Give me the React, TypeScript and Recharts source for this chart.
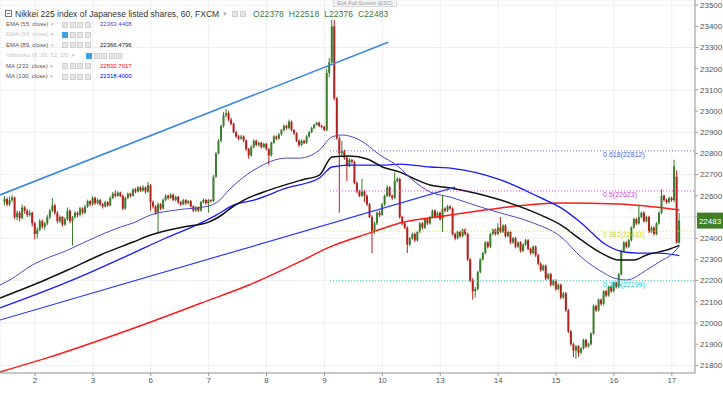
import React from 'react';
import { ComposedChart, Bar, Line, XAxis, YAxis, CartesianGrid, ReferenceLine, ReferenceDot } from 'recharts';

type Candle = [number, number, number, number]; // open, high, low, close

const dayTicks = [12, 35, 58, 81, 104, 127, 150, 173, 196, 219, 242, 265];
const dayLabels = ['2', '3', '6', '7', '8', '9', '10', '13', '14', '15', '16', '17'];
const priceTicks = [21800, 21900, 22000, 22100, 22200, 22300, 22400, 22500, 22600, 22700, 22800, 22900, 23000, 23100, 23200, 23300, 23400, 23500];

const day01: Candle[] = [
  [22570, 22600, 22555, 22585], [22585, 22592, 22550, 22560], [22560, 22598, 22552, 22580], [22580, 22605, 22570, 22592],
  [22592, 22596, 22490, 22500], [22500, 22530, 22485, 22520], [22520, 22528, 22480, 22495], [22495, 22560, 22488, 22545],
  [22545, 22552, 22515, 22530], [22530, 22538, 22500, 22510], [22510, 22532, 22502, 22520], [22520, 22525, 22455, 22470],
];
const day02: Candle[] = [
  [22470, 22478, 22395, 22420], [22420, 22450, 22400, 22440], [22440, 22490, 22432, 22480], [22480, 22488, 22445, 22455],
  [22455, 22478, 22440, 22470], [22470, 22510, 22462, 22500], [22500, 22538, 22490, 22530], [22530, 22590, 22522, 22555],
  [22555, 22562, 22510, 22520], [22520, 22528, 22470, 22480], [22480, 22508, 22472, 22500], [22500, 22505, 22455, 22465],
  [22465, 22498, 22458, 22490], [22490, 22545, 22482, 22530], [22530, 22536, 22470, 22480], [22480, 22505, 22365, 22500],
  [22500, 22528, 22492, 22520], [22520, 22526, 22498, 22510], [22510, 22548, 22503, 22540], [22540, 22546, 22512, 22520],
  [22520, 22558, 22514, 22550], [22550, 22582, 22542, 22575], [22575, 22580, 22550, 22560],
];
const day03: Candle[] = [
  [22560, 22600, 22552, 22590], [22590, 22596, 22558, 22565], [22565, 22588, 22558, 22580], [22580, 22585, 22552, 22560],
  [22560, 22566, 22540, 22550], [22550, 22578, 22545, 22570], [22570, 22576, 22548, 22555], [22555, 22598, 22550, 22590],
  [22590, 22618, 22584, 22610], [22610, 22625, 22592, 22600], [22600, 22622, 22595, 22615], [22615, 22620, 22594, 22600],
  [22600, 22606, 22532, 22540], [22540, 22596, 22535, 22590], [22590, 22616, 22584, 22610], [22610, 22615, 22592, 22600],
  [22600, 22636, 22596, 22630], [22630, 22638, 22612, 22620], [22620, 22646, 22615, 22640], [22640, 22645, 22618, 22625],
  [22625, 22650, 22620, 22640], [22640, 22644, 22612, 22620], [22620, 22665, 22615, 22650],
];
const day06: Candle[] = [
  [22650, 22656, 22530, 22570], [22570, 22578, 22540, 22550], [22550, 22556, 22510, 22520], [22520, 22568, 22425, 22560],
  [22560, 22566, 22532, 22540], [22540, 22588, 22535, 22580], [22580, 22608, 22574, 22600], [22600, 22606, 22582, 22590],
  [22590, 22612, 22585, 22605], [22605, 22610, 22575, 22580], [22580, 22600, 22574, 22595], [22595, 22600, 22562, 22570],
  [22570, 22576, 22552, 22560], [22560, 22586, 22555, 22580], [22580, 22584, 22558, 22565], [22565, 22580, 22560, 22575],
  [22575, 22580, 22544, 22550], [22550, 22556, 22522, 22530], [22530, 22552, 22525, 22545], [22545, 22550, 22524, 22530],
  [22530, 22576, 22526, 22570], [22570, 22588, 22564, 22580], [22580, 22585, 22558, 22565],
];
const day07: Candle[] = [
  [22565, 22585, 22520, 22580], [22580, 22584, 22568, 22575], [22575, 22698, 22570, 22690], [22690, 22808, 22685, 22800],
  [22800, 22868, 22795, 22860], [22860, 22936, 22852, 22930], [22930, 22995, 22922, 22980], [22980, 23010, 22970, 22990],
  [22990, 23000, 22952, 22960], [22960, 22968, 22932, 22940], [22940, 22946, 22895, 22900], [22900, 22906, 22872, 22880],
  [22880, 22888, 22862, 22870], [22870, 22888, 22864, 22880], [22880, 22885, 22852, 22860], [22860, 22866, 22812, 22820],
  [22820, 22826, 22775, 22790], [22790, 22838, 22784, 22830], [22830, 22866, 22824, 22860], [22860, 22865, 22834, 22840],
  [22840, 22856, 22832, 22850], [22850, 22855, 22824, 22830], [22830, 22850, 22826, 22845],
];
const day08: Candle[] = [
  [22845, 22850, 22814, 22820], [22820, 22826, 22745, 22790], [22790, 22856, 22785, 22850], [22850, 22886, 22845, 22880],
  [22880, 22885, 22862, 22870], [22870, 22896, 22865, 22890], [22890, 22916, 22884, 22910], [22910, 22936, 22904, 22930],
  [22930, 22935, 22912, 22920], [22920, 22960, 22914, 22950], [22950, 22955, 22904, 22910], [22910, 22915, 22888, 22895],
  [22895, 22900, 22854, 22860], [22860, 22866, 22830, 22840], [22840, 22866, 22835, 22860], [22860, 22865, 22844, 22850],
  [22850, 22886, 22845, 22880], [22880, 22906, 22874, 22900], [22900, 22926, 22895, 22920], [22920, 22940, 22915, 22935],
  [22935, 22950, 22930, 22945], [22945, 22950, 22925, 22930], [22930, 22936, 22918, 22925],
];
const day09: Candle[] = [
  [22925, 22930, 22905, 22910], [22910, 23200, 22905, 23180], [23180, 23250, 23160, 23230], [23230, 23430, 23225, 23400],
  [23400, 23430, 23050, 23060], [23060, 23066, 22865, 22870], [22870, 22880, 22520, 22800], [22800, 22860, 22790, 22810],
  [22810, 22818, 22770, 22780], [22780, 22790, 22670, 22740], [22740, 22778, 22735, 22770], [22770, 22775, 22752, 22760],
  [22760, 22766, 22655, 22660], [22660, 22668, 22612, 22620], [22620, 22628, 22594, 22600], [22600, 22680, 22594, 22620],
  [22620, 22626, 22570, 22600], [22600, 22606, 22552, 22560], [22560, 22566, 22495, 22500], [22500, 22508, 22330, 22430],
  [22430, 22478, 22420, 22470], [22470, 22526, 22462, 22520], [22520, 22530, 22500, 22510],
];
const day10: Candle[] = [
  [22510, 22566, 22504, 22560], [22560, 22606, 22552, 22600], [22600, 22650, 22594, 22640], [22640, 22646, 22594, 22600],
  [22600, 22606, 22580, 22590], [22590, 22710, 22585, 22670], [22670, 22690, 22662, 22680], [22680, 22686, 22492, 22500],
  [22500, 22506, 22462, 22470], [22470, 22476, 22442, 22450], [22450, 22456, 22330, 22370], [22370, 22406, 22362, 22400],
  [22400, 22426, 22392, 22420], [22420, 22426, 22382, 22390], [22390, 22436, 22384, 22430], [22430, 22476, 22424, 22470],
  [22470, 22476, 22442, 22450], [22450, 22496, 22444, 22490], [22490, 22496, 22462, 22470], [22470, 22506, 22464, 22500],
  [22500, 22536, 22494, 22530], [22530, 22536, 22494, 22500], [22500, 22526, 22494, 22520],
];
const day13: Candle[] = [
  [22520, 22526, 22484, 22490], [22490, 22600, 22430, 22540], [22540, 22546, 22522, 22530], [22530, 22556, 22524, 22550],
  [22550, 22556, 22534, 22540], [22540, 22546, 22412, 22420], [22420, 22426, 22390, 22400], [22400, 22436, 22394, 22430],
  [22430, 22436, 22402, 22410], [22410, 22446, 22404, 22440], [22440, 22446, 22412, 22420], [22420, 22426, 22292, 22300],
  [22300, 22306, 22192, 22200], [22200, 22212, 22110, 22150], [22150, 22170, 22120, 22160], [22160, 22246, 22154, 22240],
  [22240, 22306, 22234, 22300], [22300, 22336, 22294, 22330], [22330, 22386, 22324, 22380], [22380, 22386, 22352, 22360],
  [22360, 22426, 22354, 22420], [22420, 22446, 22414, 22440], [22440, 22446, 22412, 22420],
];
const day14: Candle[] = [
  [22420, 22470, 22414, 22450], [22450, 22500, 22424, 22430], [22430, 22466, 22424, 22460], [22460, 22466, 22402, 22410],
  [22410, 22436, 22404, 22430], [22430, 22436, 22372, 22380], [22380, 22406, 22374, 22400], [22400, 22406, 22352, 22360],
  [22360, 22386, 22354, 22380], [22380, 22386, 22332, 22340], [22340, 22376, 22334, 22370], [22370, 22396, 22364, 22390],
  [22390, 22396, 22342, 22350], [22350, 22356, 22322, 22330], [22330, 22366, 22324, 22360], [22360, 22366, 22312, 22320],
  [22320, 22326, 22272, 22280], [22280, 22286, 22242, 22250], [22250, 22276, 22244, 22270], [22270, 22276, 22202, 22210],
  [22210, 22236, 22204, 22230], [22230, 22236, 22172, 22180], [22180, 22206, 22174, 22200],
];
const day15: Candle[] = [
  [22200, 22206, 22152, 22160], [22160, 22186, 22154, 22180], [22180, 22186, 22112, 22120], [22120, 22146, 22114, 22140],
  [22140, 22146, 22052, 22060], [22060, 22066, 21952, 21960], [21960, 21966, 21892, 21900], [21900, 21906, 21840, 21870],
  [21870, 21896, 21830, 21890], [21890, 21896, 21840, 21860], [21860, 21886, 21852, 21880], [21880, 21926, 21874, 21920],
  [21920, 21926, 21882, 21890], [21890, 21906, 21884, 21900], [21900, 21956, 21894, 21950], [21950, 22086, 21944, 22080],
  [22080, 22086, 22052, 22060], [22060, 22116, 22054, 22110], [22110, 22116, 22082, 22090], [22090, 22156, 22084, 22150],
  [22150, 22156, 22122, 22130], [22130, 22176, 22124, 22170], [22170, 22176, 22142, 22150],
];
const day16: Candle[] = [
  [22150, 22196, 22144, 22190], [22190, 22196, 22162, 22170], [22170, 22236, 22164, 22230], [22230, 22346, 22224, 22340],
  [22340, 22386, 22334, 22380], [22380, 22386, 22352, 22360], [22360, 22396, 22354, 22390], [22390, 22456, 22384, 22450],
  [22450, 22496, 22444, 22490], [22490, 22496, 22462, 22470], [22470, 22557, 22464, 22500], [22500, 22526, 22494, 22520],
  [22520, 22526, 22474, 22480], [22480, 22506, 22474, 22500], [22500, 22506, 22424, 22430], [22430, 22456, 22424, 22450],
  [22450, 22456, 22412, 22420], [22420, 22476, 22414, 22470], [22470, 22526, 22464, 22520], [22520, 22630, 22514, 22600],
  [22600, 22606, 22572, 22580], [22580, 22586, 22562, 22570], [22570, 22596, 22564, 22590],
];
const day17: Candle[] = [
  [22590, 22596, 22572, 22580], [22580, 22770, 22570, 22740], [22690, 22720, 22375, 22380], [22378, 22518, 22376, 22483],
];

// moving averages: [candle index, value]
const ema55Pts: [number, number][] = [
  [-1.9, 22179], [2, 22203], [11, 22274], [25, 22344], [38, 22415], [46, 22453], [51, 22472], [58, 22510], [68, 22533],
  [81, 22552], [85, 22576], [89, 22627], [99, 22722], [112, 22778], [117, 22778], [125, 22816], [130, 22878], [134, 22887],
  [141, 22863], [149, 22793], [156, 22741], [162, 22675], [169, 22618], [177, 22594], [189, 22547], [197, 22519],
  [209, 22476], [221, 22406], [229, 22311], [238, 22236], [242, 22212], [247, 22203], [255, 22250], [260, 22288],
  [266, 22335], [268, 22363],
];
const ema89Pts: [number, number][] = [
  [-1.9, 22118], [16, 22203], [25, 22250], [38, 22321], [51, 22382], [58, 22415], [71, 22453], [81, 22476], [85, 22500],
  [91, 22552], [95, 22580], [105, 22627], [118, 22675], [125, 22698], [130, 22783], [137, 22788], [144, 22774],
  [150, 22736], [157, 22712], [162, 22684], [169, 22651], [177, 22637], [197, 22580], [213, 22509], [221, 22462],
  [229, 22392], [237, 22330], [244, 22297], [250, 22297], [255, 22321], [263, 22344], [268, 22366],
];
const ma100Pts: [number, number][] = [
  [-1.9, 22071], [27, 22203], [38, 22260], [51, 22330], [64, 22401], [78, 22472], [84, 22509], [91, 22557], [99, 22580],
  [112, 22637], [125, 22684], [130, 22736], [137, 22745], [150, 22745], [157, 22750], [169, 22736], [177, 22731],
  [197, 22675], [213, 22590], [221, 22543], [229, 22472], [239, 22368], [246, 22335], [252, 22330], [260, 22330],
  [268, 22318],
];
const ma233Pts: [number, number][] = [
  [-1.9, 21769], [18, 21840], [38, 21920], [58, 22005], [78, 22094], [97, 22179], [117, 22288], [129, 22358],
  [145, 22425], [157, 22472], [177, 22509], [197, 22543], [221, 22566], [244, 22561], [268, 22533],
];

const upperTrend = [{ x: -1.9, y: 22604 }, { x: 152.3, y: 23325 }];
const lowerTrend = [{ x: -1.9, y: 22014 }, { x: 178.9, y: 22641 }];
const fibStart = 129.2;
const fibEnd = 274.2;
const fibLabelAt = 237.7;
const fibLevels = [22812, 22623, 22433, 22199];
const fibNames = ['0.618', '0.5', '0.382', '0.236'];
const fibColors = ['#6b6be6', '#e04fe0', '#e6e600', '#2fd6d6'];
const fibTextColors = ['#4f5fe0', '#d43cd4', '#d6d600', '#20c4c4'];

const lastClose = 22483;
const X_DOMAIN: [number, number] = [-1.9, 274.2];
const Y_DOMAIN: [number, number] = [21764, 23524];

const GREEN = '#3a7d2c';
const RED = '#b3211e';
const GRAY = '#8a8a8a';

const candles: Candle[] = [day01, day02, day03, day06, day07, day08, day09, day10, day13, day14, day15, day16, day17].flat();

type Row = { i: number; o?: number; h?: number; l?: number; c?: number; ema55?: number; ema89?: number; ma100?: number; ma233?: number };
const table: Row[] = [{ i: X_DOMAIN[0] }, ...candles.map((k, i) => ({ i, o: k[0], h: k[1], l: k[2], c: k[3] }))];
const put = (pts: [number, number][], key: 'ema55' | 'ema89' | 'ma100' | 'ma233') => {
  pts.forEach(([idx, v]) => {
    const row = idx < 0 ? table[0] : table[Math.round(idx) + 1];
    if (row) row[key] = v;
  });
};
put(ema55Pts, 'ema55');
put(ema89Pts, 'ema89');
put(ma100Pts, 'ma100');
put(ma233Pts, 'ma233');

const CandleShape = (props: any) => {
  const { x, y, width, height, payload } = props;
  if (!payload || payload.o == null || x == null || y == null) return null;
  const { o, h, l, c } = payload;
  const cx = x + width / 2;
  const ratio = h === l ? 0 : height / (h - l);
  const top = y + (h - Math.max(o, c)) * ratio;
  const bot = y + (h - Math.min(o, c)) * ratio;
  const color = c > o ? GREEN : c < o ? RED : GRAY;
  return (
    <g>
      <line x1={cx} x2={cx} y1={y} y2={y + height} stroke={color} strokeWidth={1} />
      <rect x={cx - 1} y={top} width={2} height={Math.max(1, bot - top)} fill={color} />
    </g>
  );
};

const Icon = ({ blue }: { blue?: boolean }) => (
  <span
    style={{
      display: 'inline-block', width: 6, height: 6, marginRight: 1.5, boxSizing: 'border-box',
      background: blue ? '#3ea3e6' : '#e6e6e6', border: `1px solid ${blue ? '#3ea3e6' : '#d0d0d0'}`, verticalAlign: 'middle',
    }}
  />
);

const legendRows = [
  { label: 'EMA (55, close)', value: '22363.4408', color: '#4b47c8', dim: false, iconX: 62, icons: 4 },
  { label: 'EMA (34, close)', value: '', color: '#999', dim: true, iconX: 62, icons: 4 },
  { label: 'EMA (89, close)', value: '22366.4796', color: '#222', dim: false, iconX: 62, icons: 4 },
  { label: 'Ichimoku (9, 26, 52, 26)', value: '', color: '#999', dim: true, iconX: 86, icons: 5 },
  { label: 'MA (233, close)', value: '22532.7017', color: '#ff0000', dim: false, iconX: 62, icons: 4 },
  { label: 'MA (100, close)', value: '22318.4000', color: '#0000ff', dim: false, iconX: 62, icons: 4 },
];

const FONT = '"Liberation Sans", Arial, sans-serif';

export default function App() {
  return (
    <div style={{ position: 'absolute', left: 0, top: 0, width: 723, height: 395, background: '#fff', overflow: 'hidden', fontFamily: FONT }}>
      <ComposedChart width={723} height={395} data={table} margin={{ top: 0, right: 0, bottom: 0, left: 0 }}>
        <CartesianGrid stroke="#eeeeee" strokeWidth={1} />
        <XAxis
          dataKey="i" type="number" domain={X_DOMAIN} allowDataOverflow ticks={dayTicks}
          tickFormatter={(v: number) => dayLabels[dayTicks.indexOf(v)] ?? ''}
          height={22} tickSize={3} tickMargin={1}
          tick={{ fontSize: 8, fill: '#555', fontFamily: FONT }}
          axisLine={{ stroke: '#999' }} tickLine={{ stroke: '#999' }}
        />
        <YAxis
          orientation="right" type="number" domain={Y_DOMAIN} allowDataOverflow ticks={priceTicks}
          tickFormatter={(v: number) => (v === 22500 ? '' : String(v))}
          width={28} tickSize={3} tickMargin={2}
          tick={{ fontSize: 8, fill: '#555', fontFamily: FONT, textAnchor: 'start' }}
          axisLine={{ stroke: '#999' }} tickLine={{ stroke: '#999' }}
        />
        <Bar dataKey={(r: Row) => (r.o == null ? null : [r.l, r.h])} barSize={2} shape={CandleShape} activeBar={false} isAnimationActive={false} />
        <Line dataKey="ma233" type="monotone" stroke="#ff1a1a" strokeWidth={1.5} dot={false} activeDot={false} connectNulls isAnimationActive={false} />
        <Line dataKey="ma100" type="monotone" stroke="#1a1aff" strokeWidth={1.3} dot={false} activeDot={false} connectNulls isAnimationActive={false} />
        <Line dataKey="ema89" type="monotone" stroke="#111" strokeWidth={1.5} dot={false} activeDot={false} connectNulls isAnimationActive={false} />
        <Line dataKey="ema55" type="monotone" stroke="#4b47c8" strokeWidth={1} dot={false} activeDot={false} connectNulls isAnimationActive={false} />
        <ReferenceLine segment={upperTrend} stroke="#3b86e0" strokeWidth={1.6} ifOverflow="visible" />
        <ReferenceLine segment={lowerTrend} stroke="#2a3cf0" strokeWidth={1.2} ifOverflow="visible" />
        {fibLevels.map((lv, k) => (
          <ReferenceLine
            key={'f' + k}
            segment={[{ x: fibStart, y: lv }, { x: fibEnd, y: lv }]}
            stroke={fibColors[k]} strokeWidth={1} strokeDasharray="1 2" ifOverflow="visible"
          />
        ))}
        {fibLevels.map((lv, k) => (
          <ReferenceDot
            key={'t' + k} x={fibLabelAt} y={lv} r={0} ifOverflow="visible"
            shape={(p: any) => (
              <text x={p.cx} y={p.cy + 6} fontSize={7} fill={fibTextColors[k]} fontFamily={FONT}>
                {`${fibNames[k]}(${lv})`}
              </text>
            )}
          />
        ))}
        <ReferenceLine
          y={lastClose} stroke="#fff" strokeOpacity={0} ifOverflow="visible"
          label={(p: any) => {
            const vb = p.viewBox || {};
            const x0 = (vb.x ?? 0) + (vb.width ?? 0) + 2;
            const y0 = vb.y ?? 0;
            return (
              <g>
                <rect x={x0} y={y0 - 8} width={26} height={16} fill="#3f7f26" />
                <text x={x0 + 13} y={y0 + 3} fontSize={8} fill="#fff" textAnchor="middle" fontFamily={FONT}>{lastClose}</text>
              </g>
            );
          }}
        />
      </ComposedChart>

      {/* Legend */}
      <div style={{ position: 'absolute', left: 5, top: 8, height: 11, display: 'flex', alignItems: 'center', fontSize: 8.5, color: '#333', whiteSpace: 'nowrap' }}>
        <span style={{ display: 'inline-block', width: 7, height: 7, border: '1px solid #777', boxSizing: 'border-box', marginRight: 3, position: 'relative' }}>
          <span style={{ position: 'absolute', left: 1, right: 1, top: 2, height: 1, background: '#777' }} />
        </span>
        <span>Nikkei 225 index of Japanese listed shares, 60, FXCM</span>
        <span style={{ color: '#aaa', fontSize: 6, margin: '0 4px 0 3px' }}>▼</span>
        <Icon /><Icon />
        <span style={{ marginLeft: 6, color: '#3b7a3b', letterSpacing: 0.1 }}>O22378&nbsp;&nbsp;H22518&nbsp;&nbsp;L22376&nbsp;&nbsp;C22483</span>
      </div>
      {legendRows.map((r, k) => (
        <div key={k} style={{ position: 'absolute', left: 6, top: 20 + k * 10.4, height: 9, width: 200, fontSize: 6, whiteSpace: 'nowrap' }}>
          <span style={{ position: 'absolute', left: 0, top: 1, color: r.dim ? '#c4c4c4' : '#555' }}>
            {r.label} <span style={{ color: '#bbb', fontSize: 4.5 }}>▼</span>
          </span>
          <span style={{ position: 'absolute', left: r.iconX - 6, top: 1.5, display: 'flex' }}>
            {Array.from({ length: r.icons }).map((_, j) => <Icon key={j} blue={r.dim && j === 0} />)}
          </span>
          {r.value && <span style={{ position: 'absolute', left: 94, top: 1, color: r.color }}>{r.value}</span>}
        </div>
      ))}
      <div style={{ position: 'absolute', left: 333, top: -2, width: 64, height: 9, background: '#f3f3f3', border: '1px solid #d8d8d8', boxSizing: 'border-box', fontSize: 5.5, color: '#999', textAlign: 'center', lineHeight: '9px' }}>
        Exit Full Screen (ESC)
      </div>
    </div>
  );
}
